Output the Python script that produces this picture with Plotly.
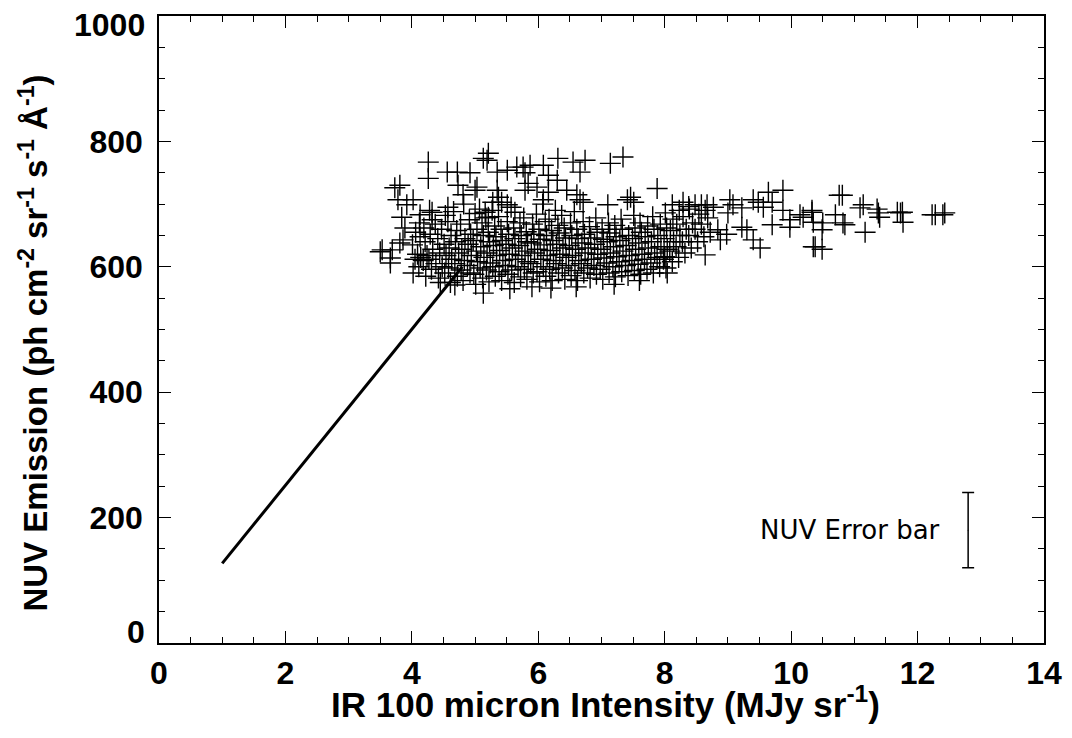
import plotly.graph_objects as go

# ---- data ----
# dense core of the scatter (IR 100 micron, NUV)
core_pts = [
    (4.02, 590), (4.05, 612), (4.01, 635), (4.06, 655),
    (4.11, 600), (4.14, 615), (4.09, 620), (4.13, 648), (4.12, 670),
    (4.22, 585), (4.18, 610), (4.24, 618), (4.21, 640), (4.19, 662),
    (4.31, 596), (4.27, 612), (4.33, 628), (4.29, 652), (4.32, 675), (4.28, 690),
    (4.42, 582), (4.38, 605), (4.44, 622), (4.41, 645), (4.37, 668),
    (4.52, 590), (4.48, 600), (4.54, 618), (4.51, 636), (4.47, 660), (4.53, 682),
    (4.61, 575), (4.58, 598), (4.63, 612), (4.59, 630), (4.62, 650), (4.57, 672),
    (4.72, 585), (4.68, 605), (4.74, 622), (4.69, 640), (4.71, 658), (4.66, 688),
    (4.81, 578), (4.78, 595), (4.83, 610), (4.79, 628), (4.84, 645), (4.77, 668), (4.82, 700),
    (4.92, 590), (4.88, 602), (4.94, 618), (4.89, 636), (4.93, 652), (4.91, 675),
    (5.01, 572), (4.98, 588), (5.04, 608), (5.02, 625), (4.97, 642), (5.03, 660), (5.00, 685),
    (5.12, 582), (5.08, 598), (5.14, 615), (5.09, 632), (5.13, 650), (5.11, 670), (5.07, 692),
    (5.22, 576), (5.18, 595), (5.24, 606), (5.19, 622), (5.23, 640), (5.21, 655), (5.17, 678),
    (5.32, 585), (5.28, 600), (5.34, 618), (5.29, 634), (5.33, 648), (5.31, 665), (5.27, 690),
    (5.42, 578), (5.38, 592), (5.44, 610), (5.39, 626), (5.43, 642), (5.41, 660), (5.37, 680),
    (5.52, 588), (5.48, 602), (5.54, 620), (5.49, 636), (5.53, 652), (5.51, 672),
    (5.62, 575), (5.58, 595), (5.64, 612), (5.59, 630), (5.63, 645), (5.61, 662), (5.57, 695),
    (5.72, 584), (5.68, 600), (5.74, 618), (5.69, 634), (5.73, 650), (5.71, 670),
    (5.82, 580), (5.78, 596), (5.84, 608), (5.79, 625), (5.83, 640), (5.81, 656), (5.77, 678),
    (5.92, 590), (5.88, 605), (5.94, 622), (5.89, 638), (5.93, 652), (5.91, 668),
    (6.02, 576), (5.98, 592), (6.04, 612), (5.99, 628), (6.03, 644), (6.01, 660), (5.97, 684),
    (6.12, 585), (6.08, 600), (6.14, 618), (6.09, 635), (6.13, 650), (6.11, 672), (6.07, 700),
    (6.22, 578), (6.18, 596), (6.24, 610), (6.19, 626), (6.23, 642), (6.21, 658), (6.17, 676),
    (6.32, 590), (6.28, 605), (6.34, 620), (6.29, 636), (6.33, 654), (6.31, 666), (6.27, 690),
    (6.42, 580), (6.38, 598), (6.44, 615), (6.39, 630), (6.43, 646), (6.41, 662), (6.37, 682),
    (6.52, 586), (6.48, 602), (6.54, 618), (6.49, 634), (6.53, 650), (6.51, 670),
    (6.62, 578), (6.58, 594), (6.64, 610), (6.59, 628), (6.63, 645), (6.61, 660), (6.57, 688),
    (6.72, 590), (6.68, 605), (6.74, 622), (6.69, 638), (6.73, 652), (6.71, 672),
    (6.82, 582), (6.78, 598), (6.84, 612), (6.79, 630), (6.83, 646), (6.81, 664),
    (6.92, 588), (6.88, 602), (6.94, 620), (6.89, 636), (6.93, 655), (6.91, 678),
    (7.02, 580), (6.98, 596), (7.04, 614), (6.99, 628), (7.03, 644), (7.01, 660),
    (7.12, 590), (7.08, 606), (7.14, 622), (7.09, 640), (7.13, 654), (7.11, 670),
    (7.22, 584), (7.18, 600), (7.24, 616), (7.19, 632), (7.23, 648), (7.21, 666),
    (7.32, 592), (7.28, 608), (7.34, 625), (7.29, 642), (7.33, 660), (7.31, 676),
    (7.42, 586), (7.38, 602), (7.44, 618), (7.39, 634), (7.43, 650),
    (7.52, 594), (7.48, 610), (7.54, 628), (7.49, 645), (7.53, 662), (7.51, 682),
    (7.62, 588), (7.58, 604), (7.64, 620), (7.59, 638), (7.63, 655), (7.61, 670),
    (7.72, 596), (7.68, 612), (7.74, 630), (7.69, 648), (7.73, 665),
    (7.82, 590), (7.78, 606), (7.84, 622), (7.79, 640), (7.83, 660), (7.81, 680),
    (7.92, 600), (7.88, 615), (7.94, 632), (7.89, 650), (7.93, 668),
    (8.02, 598), (7.98, 612), (8.04, 628), (7.99, 645), (8.03, 662), (8.01, 686),
    (8.12, 608), (8.08, 625), (8.14, 640), (8.09, 658), (8.13, 676),
    (8.22, 615), (8.18, 632), (8.24, 650), (8.19, 668), (8.23, 690),
    (8.32, 622), (8.28, 640), (8.34, 660), (8.29, 680),
    (8.42, 630), (8.38, 650), (8.44, 670), (8.39, 692),
    (8.52, 640), (8.48, 660), (8.54, 684),
    (8.62, 648), (8.58, 668), (8.64, 690),
    (8.72, 655), (8.68, 678),
]

# sparse points above / around the core
outer_pts = [
    (4.26, 767), (4.26, 741), (5.21, 781), (5.19, 770), (5.13, 773),
    (6.31, 773), (6.55, 767), (6.74, 770), (6.66, 751),
    (4.56, 751), (4.72, 751), (4.92, 750), (5.35, 751), (5.51, 754),
    (5.66, 759), (5.76, 759), (5.87, 762), (6.08, 762), (6.16, 746), (5.79, 750),
    (3.81, 730), (3.73, 726), (3.78, 707), (4.02, 707), (3.92, 699), (3.84, 679),
    (4.13, 683), (4.32, 687), (4.57, 695), (4.73, 730), (4.81, 715),
    (5.00, 722), (5.03, 727), (5.35, 722), (5.37, 711), (5.28, 703), (5.42, 703),
    (5.51, 699), (5.16, 687), (5.21, 679), (5.63, 687), (5.79, 722), (5.84, 733),
    (5.98, 727), (6.16, 719), (6.30, 738), (6.45, 722), (6.61, 715), (6.66, 707),
    (6.71, 703), (6.08, 707),
    (3.89, 662), (3.53, 627), (3.69, 627), (3.66, 614), (3.86, 643), (3.81, 638),
    (3.66, 606), (3.50, 624),
    (7.34, 775), (7.14, 765), (7.88, 725), (7.10, 699), (7.41, 707), (7.51, 703),
    (7.46, 711), (8.04, 590), (8.00, 616),
    (5.13, 558), (4.68, 571), (5.55, 565), (6.20, 566), (6.60, 568), (7.20, 572),
    (4.45, 575), (5.90, 568), (7.60, 578),
]

# tail of the distribution towards high IR intensity
tail_pts = [
    (8.12, 699), (8.29, 703), (8.48, 699), (8.58, 699), (8.67, 699), (8.77, 695),
    (8.38, 696), (8.64, 619), (8.88, 643), (8.84, 659), (8.98, 652),
    (9.03, 707), (9.00, 686), (9.08, 699), (9.22, 694), (9.22, 663), (9.30, 659),
    (9.40, 707), (9.48, 703), (9.40, 643), (9.51, 630), (9.56, 695),
    (9.64, 719), (9.70, 703), (9.70, 667), (9.87, 722), (9.87, 690), (9.98, 675),
    (9.98, 663), (10.14, 683), (10.33, 690), (10.35, 632),
    (10.19, 679), (10.33, 687), (10.35, 671), (10.50, 670), (10.49, 659),
    (10.70, 683), (10.82, 670), (10.85, 667), (10.76, 714), (10.81, 714),
    (11.17, 655), (11.09, 694), (11.14, 699), (11.36, 692), (11.38, 686),
    (11.40, 679), (11.68, 687), (11.73, 686), (11.76, 687), (11.77, 671),
    (12.23, 683), (12.28, 683), (12.40, 683), (12.43, 686),
    (10.38, 632), (10.49, 628),
]

fit_x = [1.0, 4.8]
fit_y = [127, 600]

err_x = [12.8]
err_y = [180]
err_half = [60]
err_label = "NUV Error bar"

x_ticks = [0, 2, 4, 6, 8, 10, 12, 14]
y_ticks = [0, 200, 400, 600, 800, 1000]
x_title = "<b>IR 100 micron Intensity (MJy sr<sup>-1</sup>)</b>"
y_title = ("<b>NUV Emission (ph cm<sup>-2</sup> sr<sup>-1</sup> "
           "s<sup>-1</sup> Å<sup>-1</sup>)</b>")

pts = core_pts + outer_pts + tail_pts
px = [p[0] for p in pts]
py = [p[1] for p in pts]

BOLD = "Liberation Sans, Arial"

fig = go.Figure()
fig.add_trace(go.Scatter(
    x=px, y=py, mode="markers",
    marker=dict(symbol="cross-thin", size=15, color="black",
                line=dict(width=1.4, color="black")),
    hoverinfo="x+y", showlegend=False))
fig.add_trace(go.Scatter(
    x=fit_x, y=fit_y, mode="lines",
    line=dict(color="black", width=3), showlegend=False))
fig.add_trace(go.Scatter(
    x=err_x, y=err_y, mode="markers",
    marker=dict(size=1, color="black"),
    error_y=dict(type="data", array=err_half, color="black",
                 thickness=1.5, width=6),
    showlegend=False))
fig.add_annotation(x=12.38, y=err_y[0], text=err_label, showarrow=False,
                   xanchor="right", yanchor="middle",
                   font=dict(family="DejaVu Sans", size=26, color="black"))

# axis titles
fig.add_annotation(x=0.5, y=0, xref="paper", yref="paper", text=x_title,
                   showarrow=False, xanchor="center", yanchor="middle",
                   xshift=4, yshift=-59,
                   font=dict(family=BOLD, size=35, color="black"))
fig.add_annotation(x=0, y=0.5, xref="paper", yref="paper", text=y_title,
                   showarrow=False, xanchor="center", yanchor="middle",
                   textangle=-90, xshift=-126, yshift=-14,
                   font=dict(family=BOLD, size=33, color="black"))

tickfont = dict(family=BOLD, size=32, color="black", weight="bold")

# end labels of y axis sit inside the axis span (as in the original)
fig.add_annotation(x=0, y=y_ticks[-1], xref="paper", yref="y",
                   text=str(y_ticks[-1]), showarrow=False, xanchor="right",
                   yanchor="middle", xshift=-12, yshift=-9, font=tickfont)
fig.add_annotation(x=0, y=y_ticks[0], xref="paper", yref="y",
                   text=str(y_ticks[0]), showarrow=False, xanchor="right",
                   yanchor="middle", xshift=-12, yshift=11, font=tickfont)

axis_common = dict(
    showgrid=False, zeroline=False, showline=True, linecolor="black",
    linewidth=1.5, mirror="ticks", ticks="inside", tickcolor="black",
    tickwidth=1.3, ticklen=12, automargin=False, ticklabeloverflow="allow",
    tickfont=tickfont,
)

fig.update_xaxes(
    range=[0, 14], tickvals=x_ticks, ticktext=[str(v) for v in x_ticks],
    ticklabelstandoff=1,
    minor=dict(ticks="inside", dtick=0.5, ticklen=6, tickcolor="black",
               tickwidth=1.2),
    **axis_common)
fig.update_yaxes(
    range=[0, 1000], tickvals=y_ticks,
    ticktext=[("" if v in (y_ticks[0], y_ticks[-1]) else str(v)) for v in y_ticks],
    ticklabelstandoff=8,
    minor=dict(ticks="inside", dtick=50, ticklen=6, tickcolor="black",
               tickwidth=1.2),
    **axis_common)

# page body has an 8px margin; figure sized so plot box matches the original
fig.update_layout(
    width=1056, height=722,
    margin=dict(l=151, r=20, t=8, b=87),
    plot_bgcolor="white", paper_bgcolor="white",
)

fig.write_html("out.html")
